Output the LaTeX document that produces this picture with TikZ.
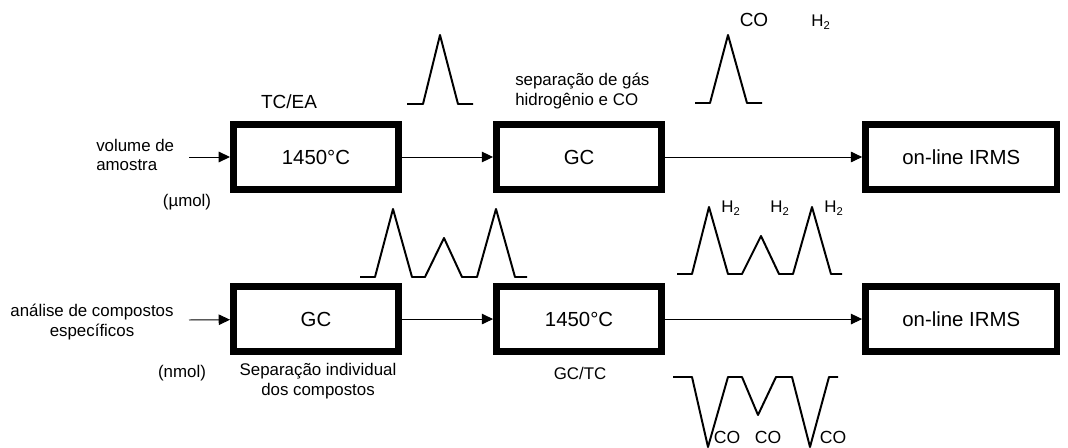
\documentclass[tikz,border=0pt]{standalone}
\usepackage{fontspec}
\setmainfont{Liberation Sans}
\usetikzlibrary{arrows.meta, positioning}

\begin{document}
\begin{tikzpicture}[
    x=0.025cm, y=-0.025cm,
    stage/.style={
        rectangle, draw=black, line width=4.7pt, minimum width=#1,
        minimum height=1.635cm, inner sep=0pt,
        font=\fontsize{14.5}{16}\selectfont
    },
    stage/.default={4.135cm},
    flow/.style={-{Triangle[length=8pt, width=7.5pt]}, line width=0.7pt},
    note/.style={font=\fontsize{12}{14}\selectfont, inner sep=0pt},
    gas/.style={font=\fontsize{#1}{#1}\selectfont, inner sep=0pt},
    gas/.default={12.5},
    peak/.style={line width=1.4pt, line join=round},
    node distance=2.25cm
]
\useasboundingbox (0,0) rectangle (1068,448);

% Upper line: TC/EA
\node[stage] (tcea) at (316,157) {1450°C};
\node[stage, right=2.275cm of tcea] (gcA) {GC};
\node[stage=4.79cm, right=4.925cm of gcA] (irmsA) {on-line IRMS};

% Lower line: GC/TC
\node[stage, below=of tcea] (gcB) {GC};
\node[stage, below=of gcA] (tcB) {1450°C};
\node[stage=4.79cm, below=of irmsA] (irmsB) {on-line IRMS};

% Inputs
\coordinate (srcA) at (189,157);
\coordinate (srcB) at (189,320);

\foreach \a/\b in {srcA/tcea, tcea/gcA, gcA/irmsA, srcB/gcB, gcB/tcB, tcB/irmsB} {
    \draw[flow] (\a) -- (\b);
}

% Labels
\node[note, anchor=west, align=left] (vol) at (96,155) {volume de\\amostra};
\node[note] (umol) at (187,202) {(µmol)};
\node[note, font=\fontsize{13.5}{16}\selectfont] (tcealbl) at (289,102) {TC/EA};
\node[note, anchor=west, align=left] (sep) at (515,91)
    {separação de gás\\hidrogênio e CO};

\node[note, align=center] (csia) at (92,322) {análise de compostos\\específicos};
\node[note] (nmol) at (182,373) {(nmol)};
\node[note, align=center] (indiv) at (318,381)
    {Separação individual\\dos compostos};
\node[note] (gctc) at (580,373) {GC/TC};

% Peaks
\draw[peak] (407,104) -- (423,104) -- (440,35) -- (458,104) -- (473,104);
\draw[peak] (695,103) -- (710,103) -- (728,35) -- (747,103) -- (762,103);
\draw[peak] (360,277) -- (375,277) -- (393,209) -- (412,277) -- (425,277)
    -- (444,238) -- (462,277) -- (477,277) -- (496,209) -- (515,277) -- (527,277);
\draw[peak] (677,274) -- (692,274) -- (709,207) -- (728,274) -- (742,274)
    -- (761,236) -- (779,274) -- (793,274) -- (812,207) -- (831,274) -- (842,274);
\draw[peak] (673,377) -- (692,377) -- (708,447) -- (728,377) -- (742,377)
    -- (758,415) -- (776,377) -- (792,377) -- (810,447) -- (829,377) -- (838,377);

% Gas labels
\node[gas=13.5] (coA) at (754,20) {CO};
\node[gas=12] (hA) at (821,22) {H\textsubscript{2}};
\foreach \x [count=\i] in {731,780,834} {
    \node[gas=12] (h\i) at (\x,208) {H\textsubscript{2}};
}
\foreach \x [count=\i] in {727,768,833} {
    \node[gas] (co\i) at (\x,437) {CO};
}

\end{tikzpicture}
\end{document}
